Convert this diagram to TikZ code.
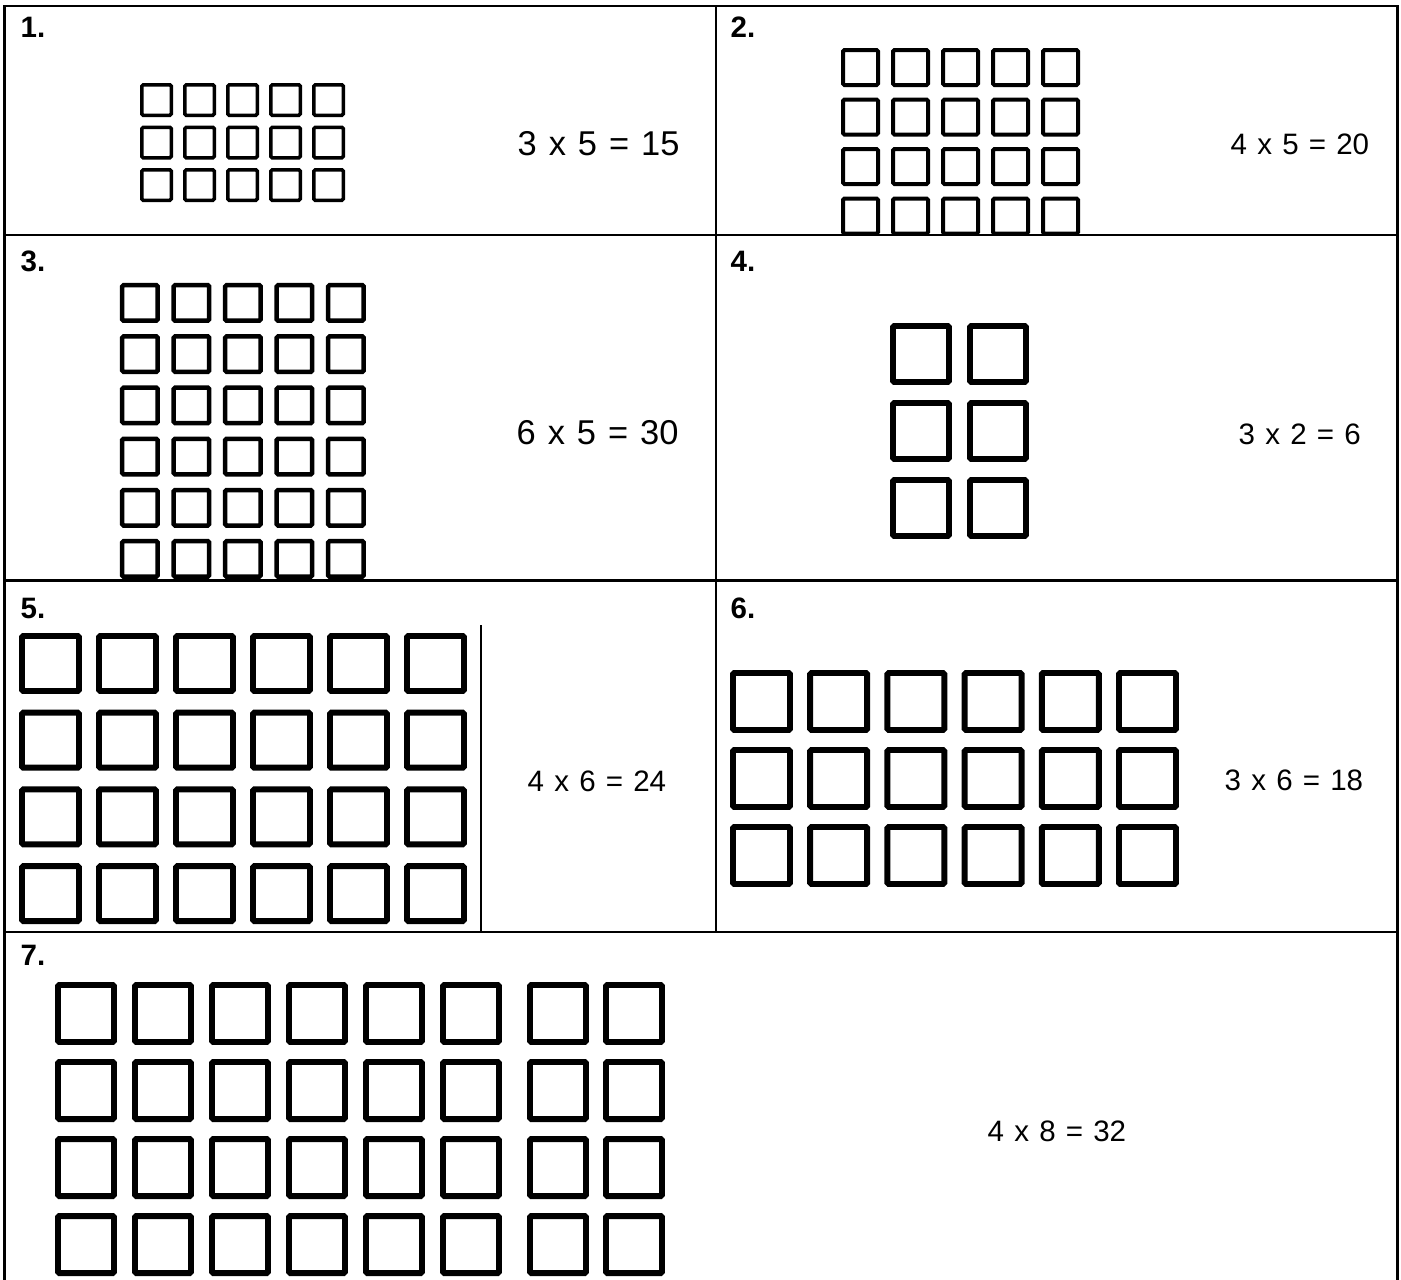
\documentclass[tikz,border=0pt]{standalone}
\usepackage{fontspec}
\setmainfont{Liberation Sans}
\usepackage{tikz}
\usetikzlibrary{positioning}

\newcommand{\eqgap}[1]{\spaceskip=#1\relax}

\begin{document}
\begin{tikzpicture}[x=0.1mm,y=-0.1mm,
    frame/.style={line width=0.71pt},
    numlabel/.style={anchor=base west,inner sep=0pt,font=\bfseries\fontsize{8.4}{10}\selectfont},
    eqbig/.style={anchor=base west,inner sep=0pt,font=\fontsize{9.8}{12}\selectfont,
        execute at begin node={\eqgap{3.4pt}}},
    eqsmall/.style={anchor=base west,inner sep=0pt,font=\fontsize{8.4}{10}\selectfont,
        execute at begin node={\eqgap{2.9pt}}},
    cell/.style={line width=#1,rounded corners=0.4pt}]
        \useasboundingbox (0,0) rectangle (1401,1280);
        % table lines
        \draw[frame] (4.5,1280) -- (4.5,6) -- (1397.5,6) -- (1397.5,1280);
        \draw[frame] (716,6) -- (716,932);
        \draw[frame] (4.5,235) -- (1397.5,235);
        \draw[frame] (4.5,580.5) -- (1397.5,580.5);
        \draw[frame] (4.5,932) -- (1397.5,932);
        \draw[line width=0.57pt] (481,625) -- (481,932);
        % numbers
        \node[numlabel] (n1) at (20,37) {1.};
        \node[numlabel] (n2) at (730,37) {2.};
        \node[numlabel] (n3) at (20,271) {3.};
        \node[numlabel] (n4) at (730,271) {4.};
        \node[numlabel] (n5) at (20,618) {5.};
        \node[numlabel] (n6) at (730,618) {6.};
        \node[numlabel] (n7) at (20,965) {7.};
        % arrays
        \foreach \i in {0,...,4} \foreach \j in {0,...,2}
            \draw[cell=1pt] ({141.8+43*\i},{84.8+42.5*\j}) rectangle +(29.5,30.5);
        \foreach \i in {0,...,4} \foreach \j in {0,...,3}
            \draw[cell=1.14pt] ({843+50*\i},{50+49.5*\j}) rectangle +(35,35);
        \foreach \i in {0,...,4} \foreach \j in {0,...,5}
            \draw[cell=1.28pt] ({122.2+51.5*\i},{285.2+51.2*\j}) rectangle +(35.5,35.5);
        \foreach \i in {0,1} \foreach \j in {0,...,2}
            \draw[cell=1.7pt] ({893+77*\i},{326+77*\j}) rectangle +(56,56);
        \foreach \i in {0,...,5} \foreach \j in {0,...,3}
            \draw[cell=1.7pt] ({22+77*\i},{636+76.7*\j}) rectangle +(57,55);
        \foreach \i in {0,...,5} \foreach \j in {0,...,2}
            \draw[cell=1.7pt] ({733+77.2*\i},{673+77*\j}) rectangle +(57,57);
        \foreach \x in {55,132,209,286,363,440,527,603} \foreach \j in {0,...,3}
            \draw[cell=1.7pt] ({\x+3},{985+77*\j}) rectangle +(56,57);
        % products
        \node[eqbig] (eq1) at (517,155) {3 x 5 = 15};
        \node[eqsmall] (eq2) at (1230,154) {4 x 5 = 20};
        \node[eqbig] (eq3) at (516,444) {6 x 5 = 30};
        \node[eqsmall] (eq4) at (1238,444) {3 x 2 = 6};
        \node[eqsmall] (eq5) at (527,791) {4 x 6 = 24};
        \node[eqsmall] (eq6) at (1224,790) {3 x 6 = 18};
        \node[eqsmall] (eq7) at (987,1141) {4 x 8 = 32};
    \end{tikzpicture}
\end{document}
